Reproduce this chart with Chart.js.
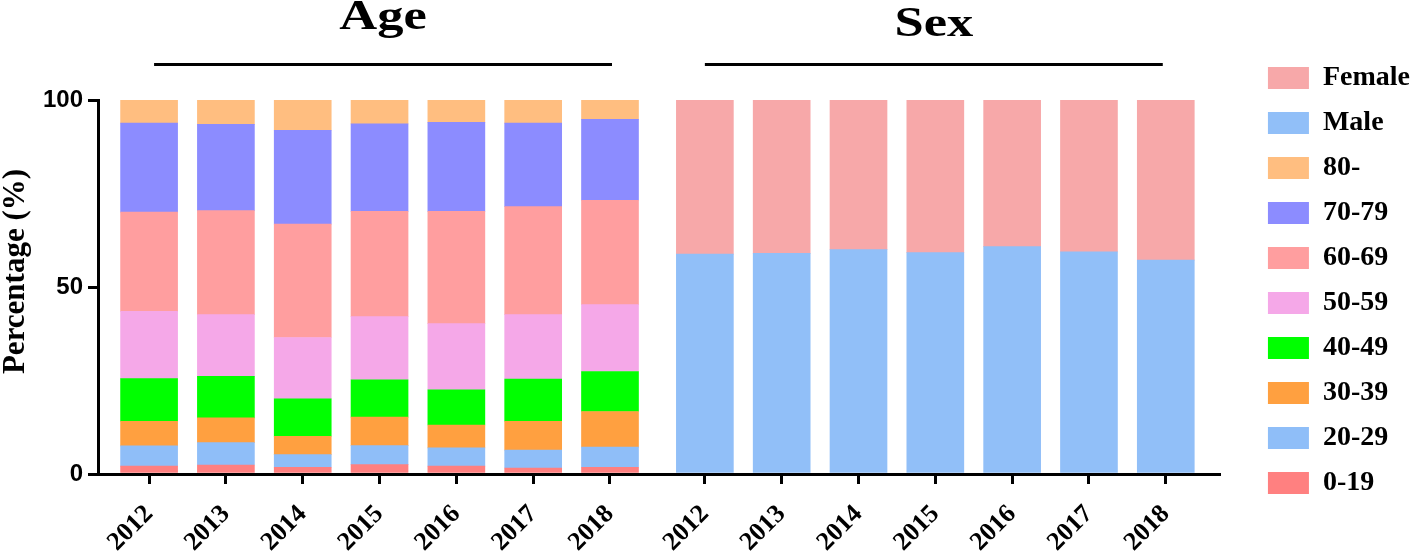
<!DOCTYPE html>
<html><head><meta charset="utf-8">
<script src="https://cdn.jsdelivr.net/npm/chart.js@4.4.1/dist/chart.umd.min.js"></script>
<style>html,body{margin:0;padding:0;background:#fff}#wrap{width:1418px;height:551px;position:relative}</style>
</head><body><div id="wrap"><canvas id="c"></canvas></div>
<script>
// ---- data ----
const years = ['2012','2013','2014','2015','2016','2017','2018'];
const groupTitles = ['Age','Sex'];
const ageGroups = ['0-19','20-29','30-39','40-49','50-59','60-69','70-79','80-'];
const age0_19  = [2.1, 2.4, 1.8, 2.5, 2.1, 1.6, 1.8];
const age20_29 = [5.4, 6.0, 3.4, 5.1, 4.9, 4.8, 5.4];
const age30_39 = [6.6, 6.6, 4.9, 7.6, 6.1, 7.7, 9.5];
const age40_49 = [11.4, 11.1, 10.0, 10.0, 9.4, 11.3, 10.7];
const age50_59 = [18.0, 16.5, 16.4, 16.9, 17.7, 17.2, 17.9];
const age60_69 = [26.5, 27.8, 30.3, 28.1, 30.0, 28.9, 27.9];
const age70_79 = [23.8, 23.1, 25.1, 23.4, 23.8, 22.3, 21.6];
const age80    = [6.2, 6.5, 8.1, 6.4, 6.0, 6.2, 5.2];
const sexLabels = ['Male','Female'];
const male   = [58.8, 59.0, 60.0, 59.2, 60.8, 59.4, 57.2];
const female = [41.2, 41.0, 40.0, 40.8, 39.2, 40.6, 42.8];
const yTicks = [0, 50, 100];
const yTitle = 'Percentage (%)';

// ---- style / layout ----
const GROUP_GAP = 1.235;          // distance (in bar slots) between last Age bar and first Sex bar
const X_MIN_PAD = 0.665, X_MAX_PAD = 0.705;
const ageColors = ['#FF8080','#8FBEF8','#FFA040','#00FF00','#F5A8E8','#FF9E9F','#8C8CFF','#FFBE80'];
const sexColors = ['#91BFF8','#F7A8A9'];
const serif = "'Liberation Serif', 'Times New Roman', serif";
const sans = "'Liberation Sans', Arial, sans-serif";

const agePos = years.map((_, i) => i);
const sexPos = years.map((_, i) => years.length - 1 + GROUP_GAP + i);
const tickPos = agePos.concat(sexPos);
const tickLabels = years.concat(years);

const ageSeries = [age0_19, age20_29, age30_39, age40_49, age50_59, age60_69, age70_79, age80];
const datasets = [];
ageSeries.forEach((arr, k) => {
  datasets.push({
    label: ageGroups[k],
    data: arr.map((v, i) => ({x: agePos[i], y: v})),
    backgroundColor: ageColors[k]
  });
});
[male, female].forEach((arr, k) => {
  datasets.push({
    label: sexLabels[k],
    data: arr.map((v, i) => ({x: sexPos[i], y: v})),
    backgroundColor: sexColors[k]
  });
});

const groupTitlePlugin = {
  id: 'groupTitles',
  afterLayout(chart) {
    const lg = chart.legend;
    if (!lg) return;
    const pad = lg.options.labels.padding;
    const shift = (chart.chartArea.right + 48) - (lg.left + pad);
    lg.left += shift; lg.right += shift;
  },
  afterDraw(chart) {
    const xs = chart.scales.x;
    const ctx = chart.ctx;
    const groups = [
      {pos: agePos, title: groupTitles[0], base: 29, a: 5, b: 2},
      {pos: sexPos, title: groupTitles[1], base: 36, a: 0, b: -3}
    ];
    ctx.save();
    groups.forEach(g => {
      const x0 = xs.getPixelForValue(g.pos[0]) + g.a;
      const x1 = xs.getPixelForValue(g.pos[g.pos.length - 1]) + g.b;
      ctx.strokeStyle = '#000';
      ctx.lineWidth = 3;
      ctx.beginPath();
      ctx.moveTo(x0, 64.5); ctx.lineTo(x1, 64.5);
      ctx.stroke();
      ctx.save();
      ctx.translate((x0 + x1) / 2, g.base);
      ctx.scale(1.25, 1);
      ctx.font = "bold 42px " + serif;
      ctx.fillStyle = '#000';
      ctx.textAlign = 'center';
      ctx.textBaseline = 'alphabetic';
      ctx.fillText(g.title, 0, 0);
      ctx.restore();
    });
    ctx.restore();
  }
};

new Chart(document.getElementById('c'), {
  type: 'bar',
  data: {datasets},
  options: {
    responsive: true,
    maintainAspectRatio: false,
    animation: false,
    barThickness: 57,
    layout: {padding: {top: 10, left: 0, right: 29, bottom: 0}},
    plugins: {
      tooltip: {enabled: false},
      title: {
        display: true, text: '', fullSize: false, position: 'top',
        font: {size: 10, lineHeight: 1}, padding: {top: 80, bottom: 0}
      },
      legend: {
        position: 'right',
        reverse: true,
        labels: {
          boxWidth: 41, boxHeight: 22, padding: 17,
          color: '#000',
          font: {family: serif, weight: 'bold', size: 28}
        }
      }
    },
    scales: {
      x: {
        type: 'linear',
        stacked: true,
        bounds: 'data',
        offset: false,
        min: -X_MIN_PAD,
        max: sexPos[sexPos.length - 1] + X_MAX_PAD,
        afterBuildTicks: (scale) => { scale.ticks = tickPos.map(v => ({value: v})); },
        afterFit: (scale) => { scale.height = 77; },
        ticks: {
          autoSkip: false, maxRotation: 45, minRotation: 45, padding: 15,
          color: '#000',
          font: {family: serif, weight: 'bold', size: 26},
          callback: (v, i) => tickLabels[i]
        },
        grid: {drawOnChartArea: false, drawTicks: true, tickLength: 10, lineWidth: 3, color: '#000', offset: false},
        border: {display: true, width: 3, color: '#000'}
      },
      y: {
        stacked: true,
        min: 0, max: 100,
        afterBuildTicks: (scale) => { scale.ticks = yTicks.map(v => ({value: v})); },
        afterFit: (scale) => { scale.width = 98; },
        ticks: {
          color: '#000', padding: 5,
          font: {family: sans, weight: 'bold', size: 24}
        },
        grid: {drawOnChartArea: false, drawTicks: true, tickLength: 10, lineWidth: 3, color: '#000'},
        border: {display: true, width: 3, color: '#000'},
        title: {
          display: true, text: '\u2002\u2002' + yTitle, color: '#000',
          font: {family: serif, weight: 'bold', size: 31, lineHeight: 1},
          padding: {top: 0, bottom: 0}
        }
      }
    }
  },
  plugins: [groupTitlePlugin]
});
</script></body></html>
